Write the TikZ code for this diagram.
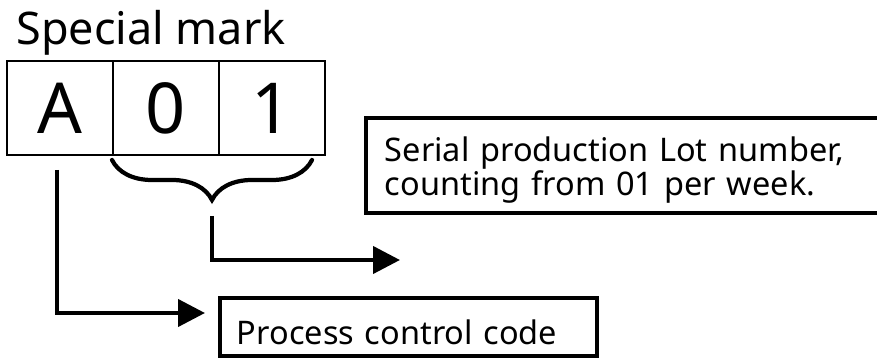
\documentclass[tikz,border=0pt]{standalone}
\usepackage{fontspec}
\setmainfont{Noto Sans}
\usepackage{tkz-euclide}
\usetikzlibrary{positioning,arrows.meta,decorations.pathreplacing}

\tikzset{
   cell/.style={draw,line width=0.8pt,minimum width=2.12cm,minimum height=1.88cm,
      inner sep=0pt,outer sep=0pt,font=\fontsize{40}{40}\selectfont},
   infobox/.style={draw,line width=1.8pt,outer sep=0pt,align=left,inner ysep=0.04cm,
      font=\fontsize{18.5}{19.3}\selectfont},
   lead/.style={line width=2.4pt,-{Triangle[length=0.54cm,width=0.54cm]}},
   curly/.style={line width=2.4pt,line cap=round,
      decorate,decoration={brace,amplitude=0.8cm}}
}

\begin{document}
\begin{tikzpicture}[x=0.02cm,y=-0.02cm]
   % \draw[help lines] (0,0) grid (877,358);
   \useasboundingbox (0,0) rectangle (877,358);
   \tkzDefPoints{112/160/L,312/160/R,57/170/P,205/313/Q,212/216/M,400/260/N}
   \node[anchor=base west,inner sep=0pt,font=\fontsize{25.6}{25.6}\selectfont]
      (mark) at (16,45) {Special mark};
   \node[cell] (A) at (60,108) {A};
   \node[cell,right=0pt of A] (B) {0};
   \node[cell,right=0pt of B] (C) {1};
   \draw[curly] (R) -- (L);
   \draw[lead] (M) |- (N);
   \draw[lead] (P) |- (Q);
   \node[infobox,anchor=north west,text width=9.92cm,inner xsep=0.38cm,
      text height=0.84cm,text depth=0.98cm]
      (S) at (366,118) {Serial production Lot number,\\counting from 01 per week.};
   \node[infobox,anchor=north west,text width=6.86cm,inner xsep=0.34cm,
      text height=0.9cm,text depth=0.18cm]
      (T) at (220,298) {Process control code};
\end{tikzpicture}
\end{document}
